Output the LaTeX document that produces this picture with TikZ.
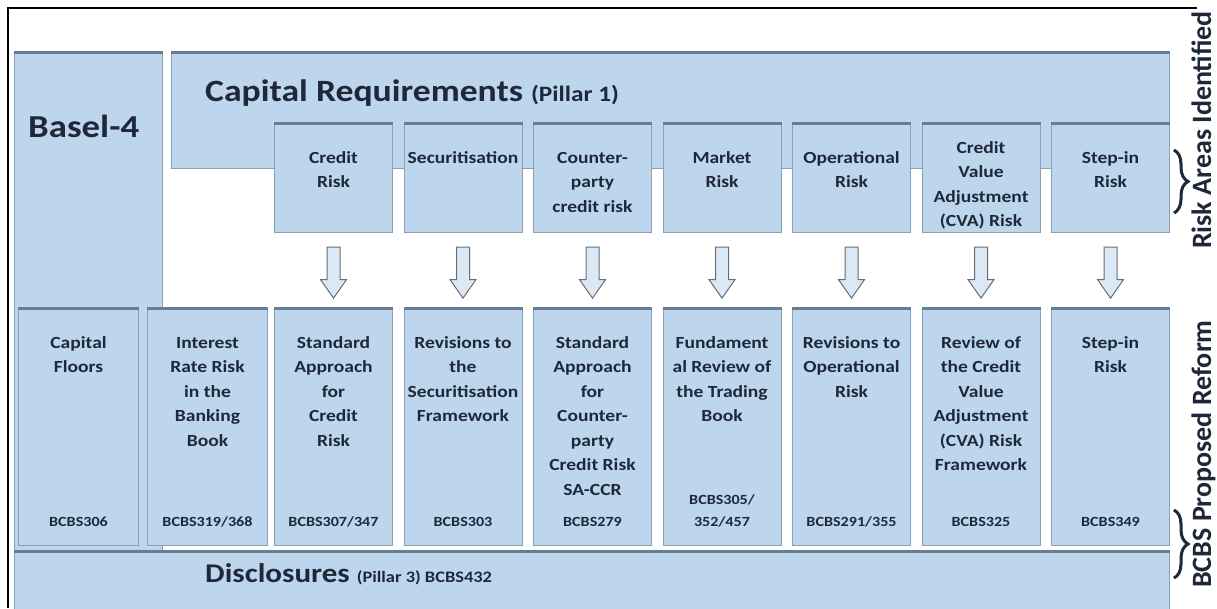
\documentclass[tikz,border=0pt]{standalone}
\usepackage{fontspec}
\setmainfont{Carlito}[FakeStretch=1.15]
\newfontfamily\sidefont{Carlito}
\usetikzlibrary{shapes.arrows,decorations.pathreplacing,calc}

\definecolor{paneblue}{RGB}{189,214,238}
\definecolor{paneline}{RGB}{138,160,184}
\definecolor{panetop}{RGB}{104,124,146}
\definecolor{ink}{RGB}{30,40,56}

\tikzset{
    pane/.style={draw=paneline, fill=paneblue, line width=1pt, inner sep=0pt, anchor=north west},
    topedge/.style={panetop, line width=3pt},
    panetext/.style={ink, font=\bfseries\fontsize{17}{24.5}\selectfont, align=center, inner sep=0pt, anchor=north},
    codetext/.style={ink, font=\bfseries\fontsize{14}{22}\selectfont, align=center, inner sep=0pt, anchor=south},
    downarrow/.style={single arrow, shape border rotate=270, draw=gray!85!black, fill=paneblue!55!white,
        line width=1pt, inner sep=6pt, single arrow head extend=6.5pt, single arrow tip angle=70, minimum height=51pt},
    sidebrace/.style={ink, line width=3pt, decorate, decoration={brace, amplitude=14pt}},
    sidelabel/.style={ink, font=\sidefont\bfseries\fontsize{28}{34}\selectfont, rotate=90, anchor=base, inner sep=0pt}
}

\begin{document}
\begin{tikzpicture}[x=1pt, y=-1pt]
    \useasboundingbox (0,0) rectangle (1217,608);
    \draw[line width=1.5pt] (1197,8) -- (8,8) -- (8,608);

    % big frames behind the columns
    \node[pane, minimum width=148, minimum height=498] (basel) at (14,52) {};
    \node[pane, minimum width=998, minimum height=116] (capreq) at (171,52) {};
    \foreach \n in {basel, capreq} {
            \draw[topedge] (\n.north west) -- (\n.north east);
        }
    \node[ink, font=\bfseries\fontsize{32}{38}\selectfont, anchor=base west, inner sep=0pt] (baseltxt) at (28,137) {Basel-4};
    \node[ink, font=\bfseries\fontsize{31}{36}\selectfont, anchor=base west, inner sep=0pt] (capreqtxt) at (205,101)
        {Capital Requirements {\fontsize{22}{26}\selectfont(Pillar 1)}};

    % risk areas
    \foreach \i/\dy/\txt in {1/23/{Credit\\Risk}, 2/23/{Securitisation}, 3/23/{Counter-\\party\\credit risk},
            4/23/{Market\\Risk}, 5/23/{Operational\\Risk}, 6/13/{Credit\\Value\\Adjustment\\(CVA) Risk}, 7/23/{Step-in\\Risk}} {
            \node[pane, minimum width=118, minimum height=109] (risk\i) at ({274+(\i-1)*129.5},123) {};
            \draw[topedge] (risk\i.north west) -- (risk\i.north east);
            \node[panetext] (risk\i txt) at ($(risk\i.north)+(0,\dy)$) {\strut\txt};
        }

    % proposed reforms
    \foreach \j/\xx/\txt/\code in {1/18/{Capital\\Floors}/{BCBS306}, 2/147/{Interest\\Rate Risk\\in the\\Banking\\Book}/{BCBS319/368}} {
            \node[pane, minimum width=120, minimum height=237] (reform\j) at (\xx,308) {};
            \draw[topedge] (reform\j.north west) -- (reform\j.north east);
            \node[panetext] (reform\j txt) at ($(reform\j.north)+(0,23)$) {\strut\txt};
            \node[codetext] (reform\j code) at ($(reform\j.south)+(0,-13)$) {\code\strut};
        }
    \foreach \i/\txt/\code in {1/{Standard\\Approach\\for\\Credit\\Risk}/{BCBS307/347},
            2/{Revisions to\\the\\Securitisation\\Framework}/{BCBS303},
            3/{Standard\\Approach\\for\\Counter-\\party\\Credit Risk\\SA-CCR}/{BCBS279},
            4/{Fundament\\al Review of\\the Trading\\Book}/{BCBS305/\\352/457},
            5/{Revisions to\\Operational\\Risk}/{BCBS291/355},
            6/{Review of\\the Credit\\Value\\Adjustment\\(CVA) Risk\\Framework}/{BCBS325},
            7/{Step-in\\Risk}/{BCBS349}} {
            \pgfmathtruncatemacro{\j}{\i+2}
            \node[pane, minimum width=118, minimum height=237] (reform\j) at ({274+(\i-1)*129.5},308) {};
            \draw[topedge] (reform\j.north west) -- (reform\j.north east);
            \node[panetext] (reform\j txt) at ($(reform\j.north)+(0,23)$) {\strut\txt};
            \node[codetext] (reform\j code) at ($(reform\j.south)+(0,-13)$) {\code\strut};
            \node[downarrow] (link\i) at ($(risk\i.south)!0.5!(reform\j.north)+(0,-2.5)$) {};
        }

    % pillar 3 across the bottom
    \node[pane, minimum width=1155, minimum height=70] (discl) at (14,551) {};
    \draw[topedge] (discl.north west) -- (discl.north east);
    \node[ink, font=\bfseries\fontsize{27}{32}\selectfont, anchor=base west, inner sep=0pt] (discltxt) at (205,582)
        {Disclosures {\fontsize{16}{20}\selectfont(Pillar 3) BCBS432}};

    % side notes
    \draw[sidebrace] (1174,150) -- (1174,213);
    \draw[sidebrace] (1174,510) -- (1174,578);
    \node[sidelabel] (riskareas) at (1211,130) {Risk Areas Identified};
    \node[sidelabel] (reforms) at (1211,454) {BCBS Proposed Reform};
\end{tikzpicture}
\end{document}
